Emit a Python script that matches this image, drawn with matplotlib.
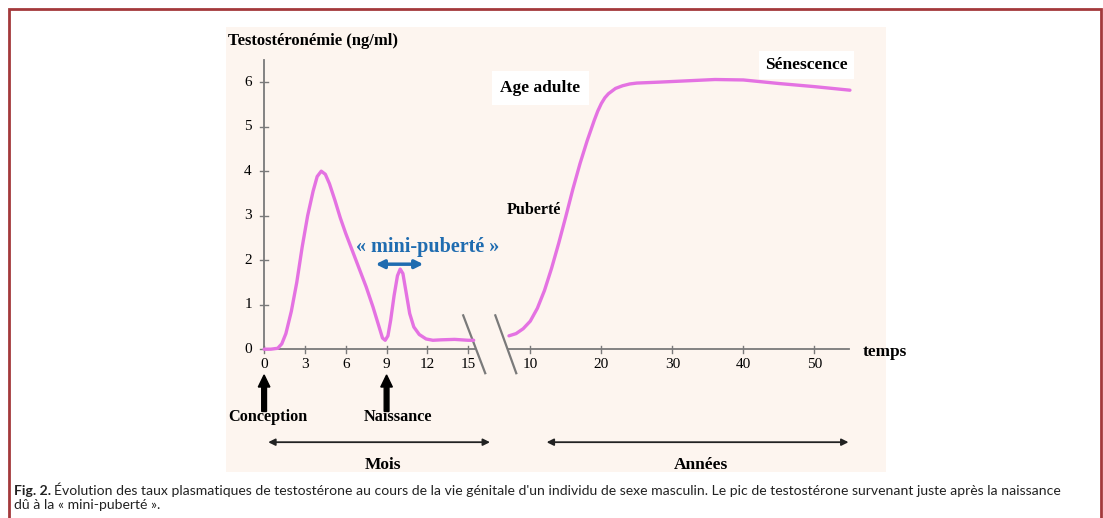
import numpy as np
import matplotlib
matplotlib.use("Agg")
import matplotlib.pyplot as plt
from matplotlib.patches import Rectangle, FancyArrow

# courbe : mois (avant la coupure) puis années (après la coupure)
mois_x = [0, 0.5, 1, 1.3, 1.6, 2, 2.4, 2.8, 3.2, 3.6, 3.9, 4.2, 4.5, 4.8, 5.2,
          5.6, 6, 6.5, 7, 7.5, 8, 8.4, 8.7, 8.9, 9.1, 9.3, 9.55, 9.8, 10,
          10.2, 10.45, 10.7, 11, 11.4, 11.9, 12.4, 13, 14, 15, 15.4]
mois_y = [0, 0, 0.02, 0.12, 0.35, 0.85, 1.5, 2.3, 3.0, 3.55, 3.88, 4.0, 3.93,
          3.72, 3.35, 2.95, 2.6, 2.2, 1.8, 1.4, 0.95, 0.55, 0.25, 0.2, 0.3,
          0.65, 1.2, 1.65, 1.8, 1.7, 1.25, 0.8, 0.5, 0.33, 0.23, 0.2, 0.21,
          0.22, 0.2, 0.2]
annees_x = [7, 8, 9, 10, 11, 12, 13, 14, 15, 16, 17, 18, 19, 19.5, 20, 20.5,
            21, 22, 23, 24, 25, 28, 32, 36, 40, 45, 50, 55]
annees_y = [0.3, 0.35, 0.46, 0.63, 0.92, 1.32, 1.82, 2.38, 2.98, 3.6, 4.17,
            4.68, 5.14, 5.35, 5.52, 5.65, 5.74, 5.86, 5.92, 5.96, 5.98, 6.0,
            6.03, 6.06, 6.05, 5.97, 5.9, 5.82]

ticks_mois = [0, 3, 6, 9, 12, 15]
ticks_annees = [10, 20, 30, 40, 50]
ticks_y = [0, 1, 2, 3, 4, 5, 6]


def an_to_u(a):
    # position des années sur l'axe commun (unité = mois)
    return 19.56 + (np.asarray(a, dtype=float) - 10) * 0.522


serif = "Liberation Serif"
rose = "#e472e2"
gris = "#7a7a7a"
bleu = "#1f6cb0"

fig = plt.figure(figsize=(11.03, 5.18), dpi=100)
fig.patch.set_facecolor("white")

# cadre rouge
fig.patches.append(Rectangle((9 / 1103, -0.05), 1092 / 1103, 1 - 9 / 518 + 0.05,
                             transform=fig.transFigure, fill=False,
                             edgecolor="#a3393b", linewidth=2))

ax = fig.add_axes([226 / 1103, 1 - 472 / 518, 660 / 1103, 445 / 518])
ax.set_facecolor("#fdf5ef")
ax.set_xlim(-2.8, 45.7)
ax.set_ylim(-2.76, 7.24)
for s in ax.spines.values():
    s.set_visible(False)
ax.set_xticks([])
ax.set_yticks([])

# axes dessinés à la main
ax.plot([0, 0], [0, 6.5], color=gris, lw=1.3)
ax.plot([0, 15.5], [0, 0], color=gris, lw=1.3)
ax.plot([17.9, an_to_u(54.8)], [0, 0], color=gris, lw=1.3)
for t in ticks_y:
    ax.plot([-0.3, 0.3], [t, t], color=gris, lw=1)
    ax.text(-0.9, t, str(t), ha="right", va="center", family=serif, fontsize=11)
for t in ticks_mois:
    ax.plot([t, t], [-0.08, 0.08], color=gris, lw=1)
    ax.text(t, -0.35, str(t), ha="center", va="center", family=serif, fontsize=11)
for t in ticks_annees:
    u = an_to_u(t)
    ax.plot([u, u], [-0.08, 0.08], color=gris, lw=1)
    ax.text(u, -0.35, str(t), ha="center", va="center", family=serif, fontsize=11)

# coupure
ax.plot([14.63, 16.25], [0.76, -0.54], color=gris, lw=1.6)
ax.plot([16.99, 18.53], [0.76, -0.54], color=gris, lw=1.6)

# courbe
ax.plot(mois_x, mois_y, color=rose, lw=2.4, solid_capstyle="round",
        solid_joinstyle="round")
ax.plot(an_to_u(annees_x), annees_y, color=rose, lw=2.4, solid_capstyle="round",
        solid_joinstyle="round")

# textes
ax.text(-2.65, 6.92, "Testostéronémie (ng/ml)", family=serif, weight="bold",
        fontsize=12, ha="left", va="center")
ax.text(44.0, -0.07, "temps", family=serif, weight="bold", fontsize=12.4,
        ha="left", va="center")
ax.text(20.3, 5.87, "Age adulte", family=serif, weight="bold", fontsize=12.5,
        ha="center", va="center",
        bbox=dict(boxstyle="square,pad=0.5", fc="white", ec="none"))
ax.text(39.85, 6.38, "Sénescence", family=serif, weight="bold", fontsize=12.5,
        ha="center", va="center",
        bbox=dict(boxstyle="square,pad=0.35", fc="white", ec="none"))
ax.text(19.8, 3.12, "Puberté", family=serif, weight="bold", fontsize=11.5,
        ha="center", va="center")
ax.text(12.0, 2.29, "« mini-puberté »", family=serif, weight="bold",
        fontsize=14.5, color=bleu, ha="center", va="center")
ax.annotate("", xy=(8.2, 1.91), xytext=(11.7, 1.91),
            arrowprops=dict(arrowstyle="<|-|>", color=bleu, lw=2.5,
                            mutation_scale=12, shrinkA=0, shrinkB=0))

# flèches conception / naissance
for u in [0, 9]:
    ax.add_patch(FancyArrow(u, -1.4, 0, 0.82, width=0.35, head_width=0.85,
                            head_length=0.27, length_includes_head=True,
                            color="black", clip_on=False))
ax.text(0.3, -1.53, "Conception", family=serif, weight="bold", fontsize=11.7,
        ha="center", va="center")
ax.text(9.85, -1.53, "Naissance", family=serif, weight="bold", fontsize=11.7,
        ha="center", va="center")

# mois / années
ax.annotate("", xy=(0.3, -2.09), xytext=(16.6, -2.09),
            arrowprops=dict(arrowstyle="<|-|>", color="#222222", lw=1.3,
                            mutation_scale=10, shrinkA=0, shrinkB=0))
ax.annotate("", xy=(an_to_u(12.3), -2.09), xytext=(an_to_u(54.8), -2.09),
            arrowprops=dict(arrowstyle="<|-|>", color="#222222", lw=1.3,
                            mutation_scale=10, shrinkA=0, shrinkB=0))
ax.text(8.7, -2.6, "Mois", family=serif, weight="bold", fontsize=12.5,
        ha="center", va="center")
ax.text(32.1, -2.6, "Années", family=serif, weight="bold", fontsize=12.5,
        ha="center", va="center")

# légende de la figure
cap1 = ("Évolution des taux plasmatiques de testostérone au cours de la vie génitale "
        "d'un individu de sexe masculin. Le pic de testostérone survenant juste après "
        "la naissance")
t = fig.text(14 / 1103, 1 - 495 / 518, "Fig. 2.", family="Lato", weight="bold",
             fontsize=10.1, color="#222222", va="baseline", ha="left")
fig.canvas.draw()
bb = t.get_window_extent()
fig.text((bb.x1 + 3) / 1103, 1 - 495 / 518, cap1, family="Lato", fontsize=10.1,
         color="#222222", va="baseline", ha="left")
fig.text(14 / 1103, 1 - 509 / 518, "dû à la « mini-puberté ».", family="Lato",
         fontsize=10.1, color="#222222", va="baseline", ha="left")

fig.savefig("out.png", dpi=100, facecolor="white")
